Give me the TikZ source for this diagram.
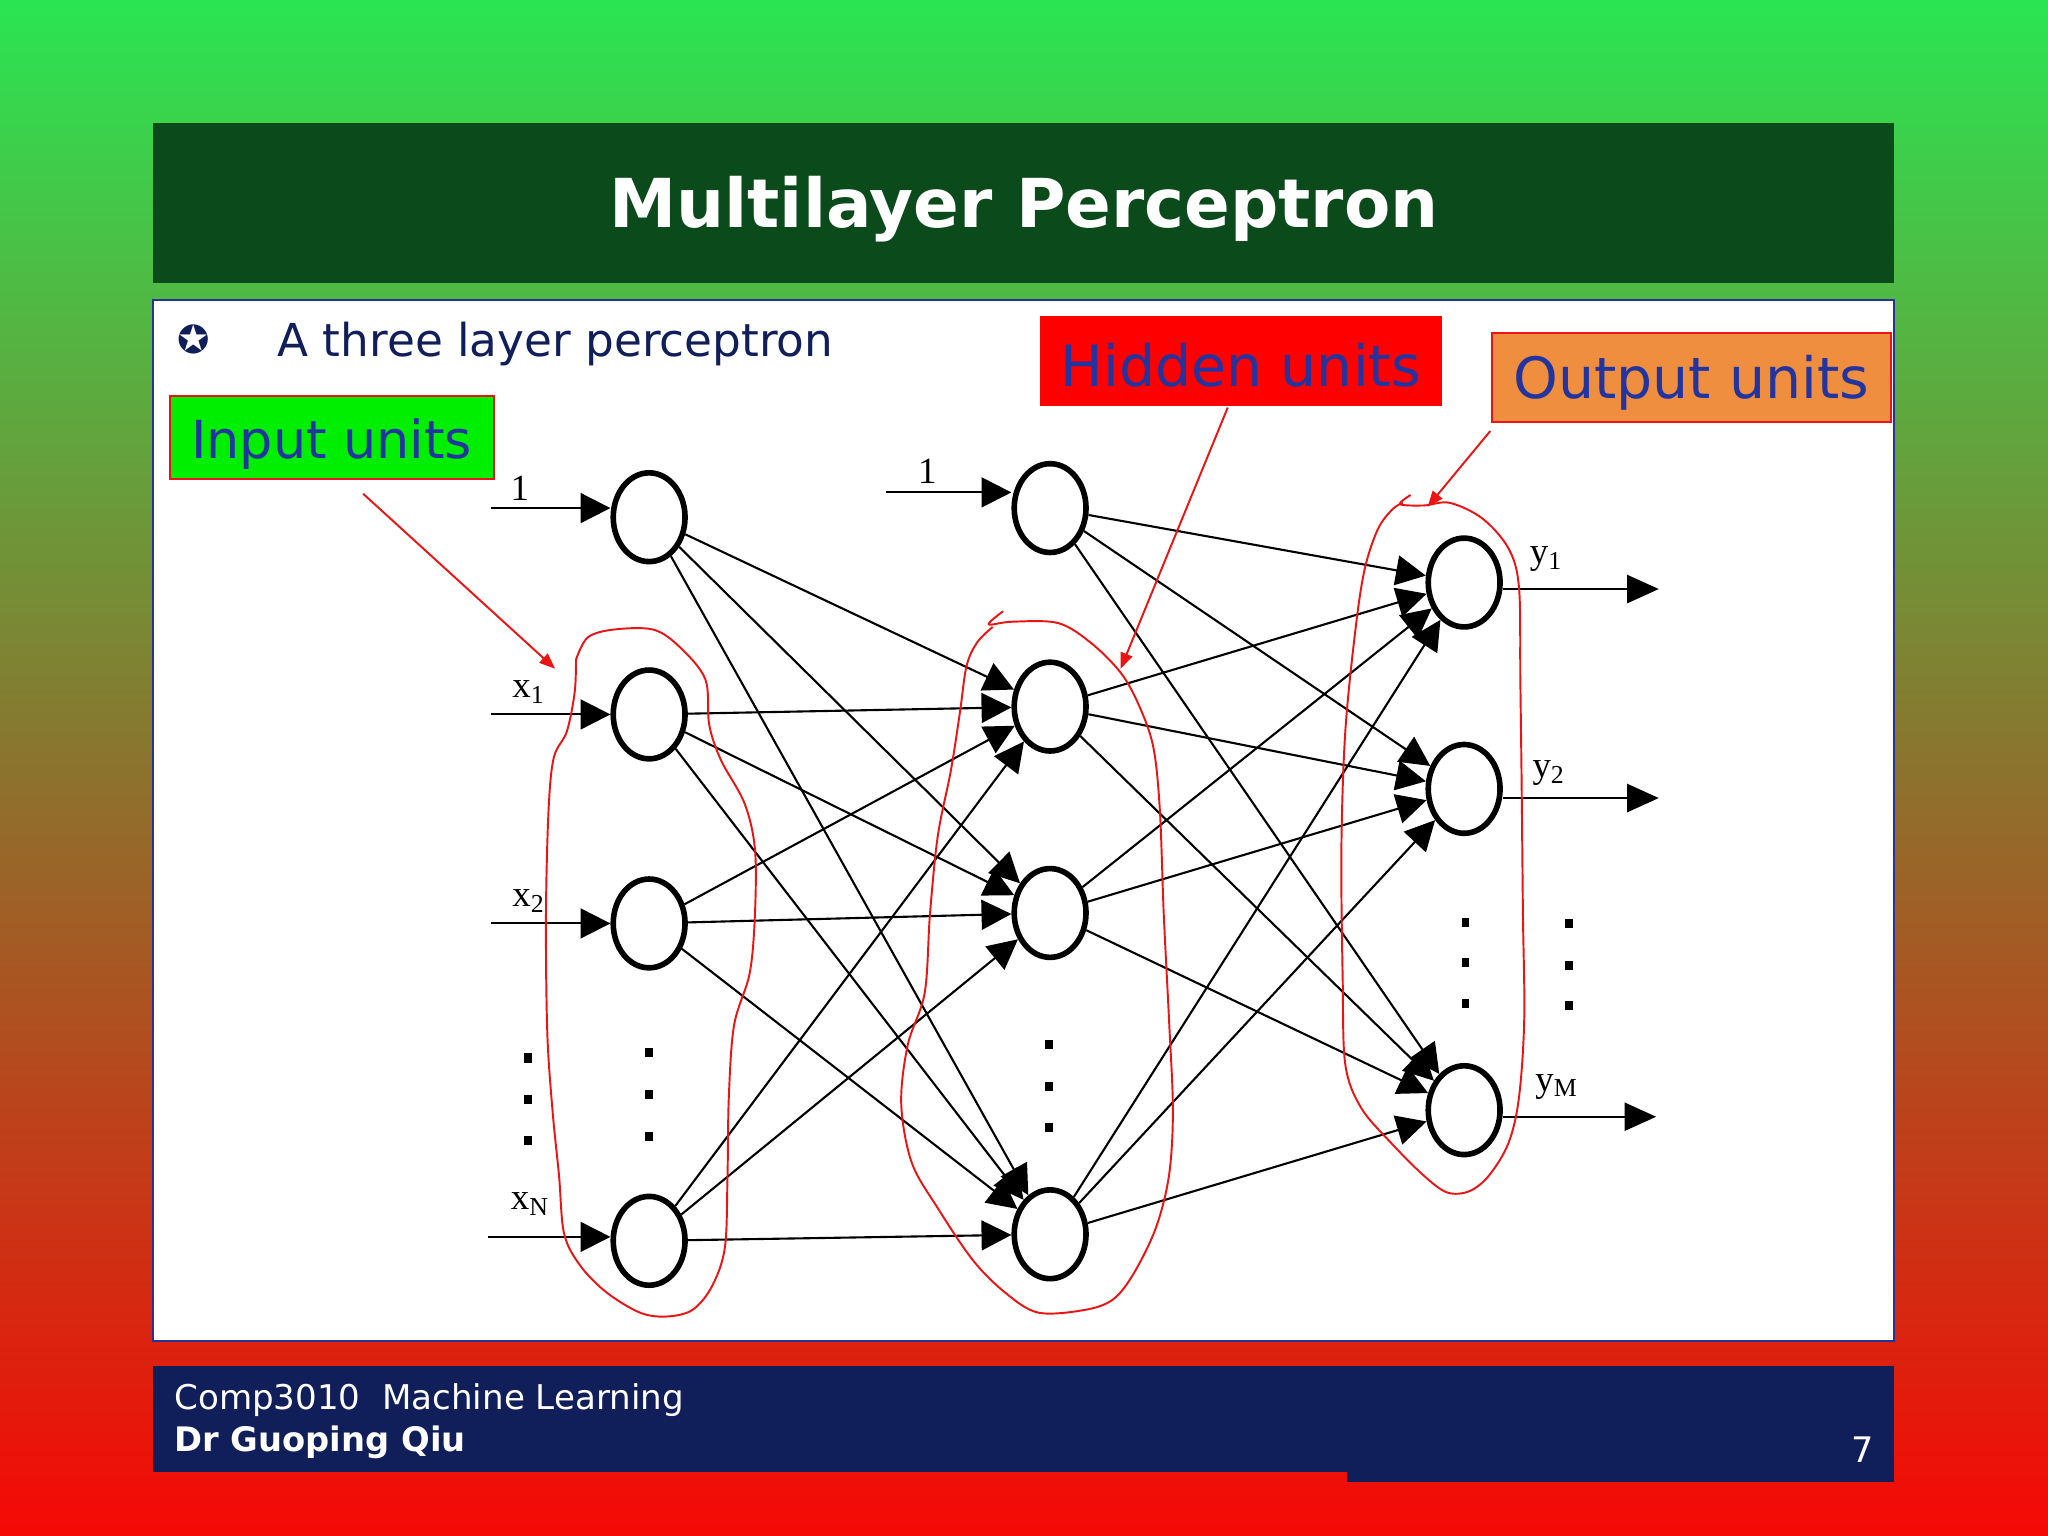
\documentclass[tikz,border=0pt]{standalone}
\usepackage{fontspec}
\setmainfont{DejaVu Sans}
\newfontfamily\netserif{Liberation Serif}
\usetikzlibrary{shapes.geometric,arrows.meta}
\definecolor{titlegreen}{RGB}{11,74,26}
\definecolor{navy}{RGB}{16,30,90}
\definecolor{labelblue}{RGB}{34,52,160}
\definecolor{inputgreen}{RGB}{0,238,0}
\definecolor{outorange}{RGB}{239,142,62}
\definecolor{bgtop}{RGB}{42,229,82}
\definecolor{bgmid}{RGB}{140,115,45}
\definecolor{bgbot}{RGB}{246,8,5}
\definecolor{panelborder}{RGB}{40,50,150}
\definecolor{handred}{RGB}{235,20,20}
\begin{document}
\begin{tikzpicture}[x=0.013061cm,y=-0.013061cm,
  unit/.style={ellipse, draw, line width=1.6pt, minimum width=0.718cm, minimum height=0.888cm, inner sep=0pt},
  conn/.style={-{Triangle[length=8.5pt,width=8.5pt]}, line width=0.6pt},
  outconn/.style={-{Triangle[length=9pt,width=8pt]}, line width=0.6pt},
  netlabel/.style={font=\netserif\fontsize{10.5pt}{12pt}\selectfont, inner sep=0pt},
  tagbox/.style={text=labelblue, inner sep=0pt},
  hand/.style={handred, line width=0.55pt},
  handarrow/.style={handred, line width=0.55pt, -{Triangle[length=4.5pt,width=3.5pt]}},
  dot/.style={fill=black}
]
\useasboundingbox (0,0) rectangle (1568,1176);
% background gradient
\shade[top color=bgtop, bottom color=bgbot, middle color=bgmid] (0,0) rectangle (1568,1176);
% title bar
\fill[titlegreen] (117,94) rectangle (1450,217);
\node[white, font=\fontsize{19.2pt}{23pt}\selectfont\bfseries] (title) at (784,160) {Multilayer Perceptron};
% content panel
\draw[panelborder, line width=0.6pt, fill=white] (117,230) rectangle (1450,1027);
% footer
\fill[navy] (117,1046) rectangle (1450,1127);
\fill[navy] (1031,1120) rectangle (1450,1135);
\node[white, anchor=west, font=\fontsize{9.7pt}{11pt}\selectfont, inner sep=0pt] (course) at (133,1072) {Comp3010\ \ Machine Learning};
\node[white, anchor=west, font=\fontsize{9.6pt}{11pt}\selectfont\bfseries, inner sep=0pt] (author) at (133,1104) {Dr Guoping Qiu};
\node[white, font=\fontsize{10pt}{12pt}\selectfont, inner sep=0pt] (page) at (1426,1110) {7};
% bullet
\node[navy, font=\fontsize{11pt}{13pt}\selectfont, inner sep=0pt] (bullet) at (148,260) {✪};
\node[navy, anchor=west, font=\fontsize{12.9pt}{15pt}\selectfont, inner sep=0pt] (subtitle) at (212,263) {A three layer perceptron};
% tag boxes
\node[tagbox, font=\fontsize{14.9pt}{17pt}\selectfont, fill=inputgreen, draw=handred, line width=0.6pt, minimum width=3.239cm, minimum height=0.836cm] (inbox) at (254,335) {};
\node[tagbox, font=\fontsize{14.9pt}{17pt}\selectfont] (intext) at (254,340) {Input units};
\node[tagbox, fill=red, minimum width=4.023cm, minimum height=0.901cm] (hidbox) at (950,276.5) {};
\node[tagbox, font=\fontsize{16.2pt}{19pt}\selectfont] (hidtext) at (950,280) {Hidden units};
\node[tagbox, fill=outorange, draw=handred, line width=0.6pt, minimum width=3.997cm, minimum height=0.888cm] (outbox) at (1295,289) {};
\node[tagbox, font=\fontsize{16.2pt}{19pt}\selectfont] (outtext) at (1295,293) {Output units};
% network nodes
\node[unit] (i0) at (497,396) {};
\node[unit] (i1) at (497,547) {};
\node[unit] (i2) at (497,707) {};
\node[unit] (iN) at (497,950) {};
\node[unit] (h0) at (804,389) {};
\node[unit] (h1) at (804,541) {};
\node[unit] (h2) at (804,699) {};
\node[unit] (hN) at (804,945) {};
\node[unit] (o1) at (1121,446) {};
\node[unit] (o2) at (1121,604) {};
\node[unit] (oM) at (1121,850) {};
% input arrows
\coordinate (in0) at (376,389);
\coordinate (in1) at (376,547);
\coordinate (in2) at (376,707);
\coordinate (inN) at (374,947);
\coordinate (inh) at (678,377);
\draw[conn] (in0) -- (in0 -| i0.west);
\draw[conn] (in1) -- (i1);
\draw[conn] (in2) -- (i2);
\draw[conn] (inN) -- (inN -| iN.west);
\draw[conn] (inh) -- (inh -| h0.west);
% output arrows
\coordinate (out1) at (1270,451);
\coordinate (out2) at (1270,611);
\coordinate (outM) at (1268,855);
\draw[outconn] (out1 -| o1.east) -- (out1);
\draw[outconn] (out2 -| o2.east) -- (out2);
\draw[outconn] (outM -| oM.east) -- (outM);
% labels
\node[netlabel] (l0) at (398,374) {1};
\node[netlabel] (l1) at (405,530) {x\textsubscript{1}};
\node[netlabel] (l2) at (405,690) {x\textsubscript{2}};
\node[netlabel] (lN) at (406,922) {x\textsubscript{N}};
\node[netlabel] (lh) at (710,361) {1};
\node[netlabel] (ly1) at (1184,428) {y\textsubscript{1}};
\node[netlabel] (ly2) at (1186,592) {y\textsubscript{2}};
\node[netlabel] (lyM) at (1192,832) {y\textsubscript{M}};
% connections input -> hidden
\foreach \s in {i0,i1,i2,iN}{
  \foreach \t in {h1,h2,hN}{
    \draw[conn] (\s) -- (\t);
  }
}
% connections hidden -> output
\foreach \s in {h0,h1,h2,hN}{
  \foreach \t in {o1,o2,oM}{
    \draw[conn] (\s) -- (\t);
  }
}
% dots
\foreach \x/\y in {404/810,404/842,404/873,497/806,497/838,497/870,803/800,803/832,803/863,1122/706,1122/737,1122/768,1201/707,1201/739,1201/770}{
  \fill[dot] (\x-3,\y-3.5) rectangle (\x+3,\y+3.5);
}
% hand-drawn loops
\draw[hand] plot[smooth, tension=0.55] coordinates {(441,505) (450,488) (470,482) (500,482) (520,495) (540,520) (543,555) (552,582) (570,615) (578,650) (578,700) (574,745) (562,785) (558,840) (557,900) (555,955) (545,985) (530,1003) (510,1008) (490,1005) (465,990) (445,970) (432,945) (428,900) (423,850) (419,790) (418,700) (420,620) (424,580) (434,560) (440,530) (441,505)};
\draw[hand] plot[smooth, tension=0.55] coordinates {(768,468) (757,478) (775,476) (810,477) (835,492) (858,515) (872,540) (883,572) (888,620) (891,700) (895,780) (898,850) (895,900) (885,940) (868,975) (852,995) (830,1003) (795,1005) (770,990) (745,965) (718,925) (698,890) (690,845) (695,800) (708,760) (712,700) (718,640) (728,590) (735,545) (740,510) (748,492) (760,480)};
\draw[hand] plot[smooth, tension=0.55] coordinates {(1080,379) (1072,386) (1090,387) (1110,385) (1135,397) (1155,420) (1163,450) (1164,520) (1165,600) (1166,700) (1167,780) (1163,840) (1155,875) (1140,900) (1125,912) (1108,913) (1090,900) (1065,875) (1042,848) (1030,815) (1028,750) (1027,650) (1030,560) (1038,480) (1045,435) (1055,405) (1066,390) (1074,385)};
% pointer arrows
\coordinate (pin) at (425,512);
\coordinate (phid) at (858,512);
\coordinate (pout) at (1093,388);
\coordinate (sin) at (278,378);
\coordinate (shid) at (940,312);
\coordinate (sout) at (1141,330);
\draw[handarrow] (sin) -- (pin);
\draw[handarrow] (shid) -- (phid);
\draw[handarrow] (sout) -- (pout);
\end{tikzpicture}
\end{document}
